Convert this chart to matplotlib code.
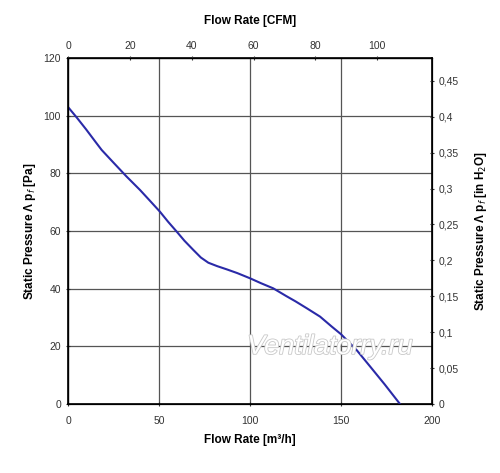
import numpy as np
import matplotlib
matplotlib.use("Agg")
from matplotlib import pyplot as plt
import matplotlib.patheffects as pe

plt.rcParams['font.family'] = ['Liberation Sans', 'DejaVu Sans']

# curve: flow [m3/h], static pressure [Pa]
flow = [0, 5, 10, 15, 18.5, 25, 32, 39.6, 45, 50.5, 55, 59.7, 64, 68.9, 73, 77.1,
        82, 87.2, 93, 100, 106, 112.8, 120, 125, 131.2, 138.5, 145, 150, 158.6,
        166, 174, 182.4]
pressure = [103, 99.2, 95.2, 91.0, 88.1, 83.7, 79.0, 74.2, 70.5, 66.7, 63.2, 59.8,
            56.6, 53.4, 50.8, 49.0, 47.8, 46.7, 45.4, 43.6, 41.9, 40.1, 37.4, 35.6,
            33.2, 30.3, 26.8, 24.2, 18.7, 13.0, 6.8, 0]

x_ticks = [0, 50, 100, 150, 200]
y_ticks = [0, 20, 40, 60, 80, 100, 120]
cfm_ticks = [0, 20, 40, 60, 80, 100]
inh2o_ticks = [0, 0.05, 0.1, 0.15, 0.2, 0.25, 0.3, 0.35, 0.4, 0.45]

M3H_PER_CFM = 1.699
PA_PER_INH2O = 249.09

fig = plt.figure(figsize=(5, 4.73), dpi=100)
ax = fig.add_axes([0.136, 0.1459, 0.728, 0.7315])

ax.plot(flow, pressure, color='#2a2aa8', lw=1.5, zorder=3)

ax.set_xlim(0, 200)
ax.set_ylim(0, 120)
ax.set_xticks(x_ticks)
ax.set_yticks(y_ticks)
ax.grid(True, color='#555555', lw=0.9)
ax.tick_params(labelsize=7.5, length=3, direction='inout', colors='#333333',
               labelcolor='#333333')
ax.tick_params(axis='x', pad=7)
ax.set_xlabel('Flow Rate [m³/h]', fontsize=8.5, fontweight='bold', labelpad=6)
ax.set_ylabel('Static Pressure Λ p$_f$ [Pa]', fontsize=8.5, fontweight='bold', labelpad=4)
for s in ax.spines.values():
    s.set_linewidth(1.2)

# top axis in CFM
axt = ax.twiny()
axt.set_xlim(0, 200)
axt.set_xticks([c * M3H_PER_CFM for c in cfm_ticks])
axt.set_xticklabels([str(c) for c in cfm_ticks])
axt.tick_params(labelsize=7.5, length=3, direction='inout', colors='#333333')
axt.set_xlabel('Flow Rate [CFM]', fontsize=8.5, fontweight='bold', labelpad=12.5)

# right axis in inches of water
axr = ax.twinx()
axr.set_ylim(0, 120)
axr.set_yticks([v * PA_PER_INH2O for v in inh2o_ticks])
axr.set_yticklabels([('%g' % v).replace('.', ',') for v in inh2o_ticks])
axr.tick_params(labelsize=7.5, length=3, direction='inout', colors='#333333')
axr.set_ylabel('Static Pressure Λ p$_f$ [in H$_2$O]', fontsize=8.5,
               fontweight='bold', labelpad=10)

# watermark
ax.text(0.72, 0.165, 'Ventilatorry.ru', transform=ax.transAxes, fontsize=19.5,
        style='italic', color='white', ha='center', va='center', zorder=4,
        path_effects=[pe.withStroke(linewidth=1.2, foreground='#c8c8c8')])

fig.savefig('out.png', dpi=100)
